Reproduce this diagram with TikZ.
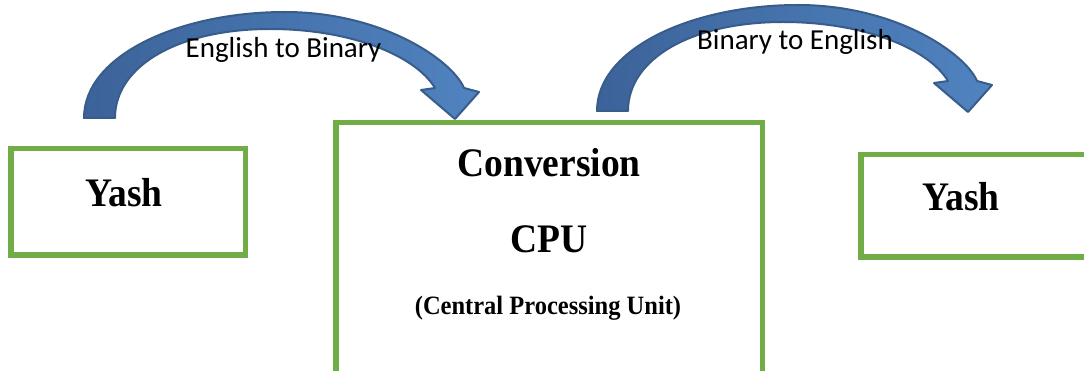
\documentclass[tikz,border=0pt]{standalone}
\usepackage{fontspec}
\setmainfont{Liberation Serif}
\newfontfamily\calibrifont{Carlito}
\definecolor{boxgreen}{HTML}{70AD47}
\definecolor{arrowdark}{HTML}{3C6399}
\definecolor{arrowlight}{HTML}{5083C0}
\definecolor{arrowline}{HTML}{385D8A}
\tikzset{
  greenbox/.style={draw=boxgreen, line width=5.5pt, fill=white},
  bigtext/.style={anchor=base, inner sep=0pt, font=\bfseries\fontsize{37.5}{42}\selectfont},
  smalltext/.style={anchor=base, inner sep=0pt, font=\bfseries\fontsize{24.5}{28}\selectfont},
  arctext/.style={anchor=base, inner sep=0pt, font=\calibrifont\fontsize{29}{34}\selectfont},
  curvedarrow/.style={left color=arrowdark, right color=arrowlight, draw=arrowline, line width=2pt, line join=round}
}
\begin{document}
\begin{tikzpicture}[x=1pt, y=-1pt]
\useasboundingbox (0,0) rectangle (1084,371);
\clip (0,0) rectangle (1084,371);
\fill[white] (0,0) rectangle (1084,371);

% boxes
\draw[greenbox] (10.75,148.75) rectangle (245.25,255.25);
\draw[greenbox] (335.75,122.75) rectangle (762.25,385);
\draw[greenbox] (860.75,154.75) rectangle (1100,257.25);

% curved arrows
\path[curvedarrow] (84,118) .. controls (84,55) and (180,12) .. (285,12)
  .. controls (382,12) and (452,60) .. (464,88) -- (479,92) -- (455,119) -- (421,90) -- (435,88)
  .. controls (415,55) and (350,29) .. (270,29)
  .. controls (180,29) and (115,65) .. (115,118) -- cycle;
\begin{scope}[shift={(513,-7)}]
\path[curvedarrow] (84,118) .. controls (84,55) and (180,12) .. (285,12)
  .. controls (382,12) and (452,60) .. (464,88) -- (479,92) -- (455,119) -- (421,90) -- (435,88)
  .. controls (415,55) and (350,29) .. (270,29)
  .. controls (180,29) and (115,65) .. (115,118) -- cycle;
\end{scope}

% texts
\node[arctext] (lab1) at (283.5,58) {English to Binary};
\node[arctext] (lab2) at (795,50) {Binary to English};
\node[bigtext] (yash1) at (124,207) {\scalebox{1}[1.08]{Yash}};
\node[bigtext] (yash2) at (961,211) {\scalebox{1}[1.08]{Yash}};
\node[bigtext] (conv) at (549,177) {\scalebox{1}[1.08]{Conversion}};
\node[bigtext] (cpu) at (549,253) {\scalebox{1}[1.08]{CPU}};
\node[smalltext] (cpufull) at (548,315) {\scalebox{1}[1.08]{(Central Processing Unit)}};
\end{tikzpicture}
\end{document}
